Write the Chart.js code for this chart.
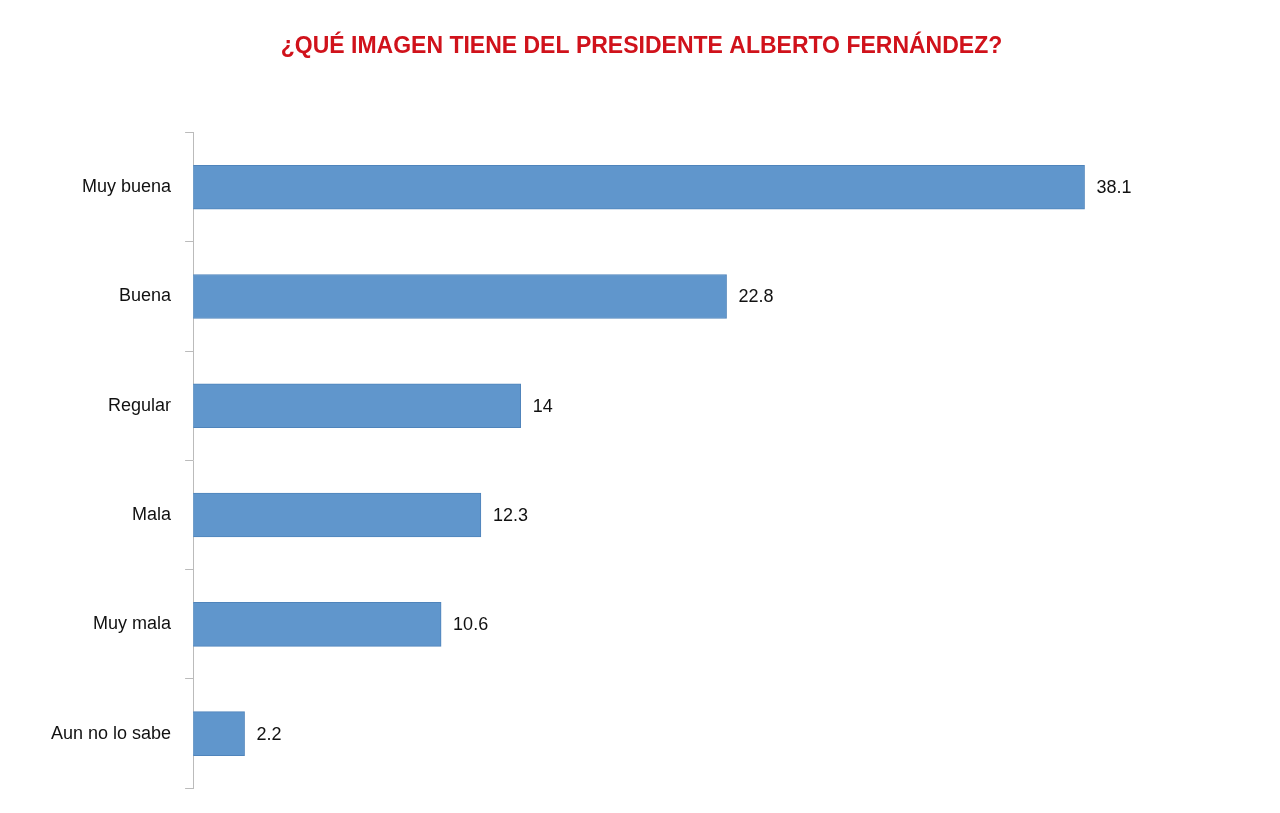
<!DOCTYPE html>
<html><head><meta charset="utf-8">
<script src="https://cdn.jsdelivr.net/npm/chart.js@4"></script>
<style>html,body{margin:0;background:#fff}#w{width:1280px;height:813px}</style>
</head><body><div id="w"><canvas id="c"></canvas></div>
<script>
const categories = ["Muy buena","Buena","Regular","Mala","Muy mala","Aun no lo sabe"];
const values = [38.1,22.8,14,12.3,10.6,2.2];
const valueLabels = ["38.1","22.8","14","12.3","10.6","2.2"];
const chartTitle = "¿QUÉ IMAGEN TIENE DEL PRESIDENTE ALBERTO FERNÁNDEZ?";

const labelPlugin = {
  id:'vl',
  afterDatasetsDraw(chart){
    const ctx=chart.ctx; const meta=chart.getDatasetMeta(0);
    ctx.save(); ctx.fillStyle='#111'; ctx.font='18px "Liberation Sans", Arial'; ctx.textBaseline='middle';
    meta.data.forEach((b,i)=>{ ctx.fillText(valueLabels[i], b.x+12, b.y+1); });
    ctx.restore();
  }
};
new Chart(document.getElementById('c'),{
  type:'bar',
  data:{labels:categories,datasets:[{data:values,backgroundColor:'#6096cc',borderColor:'#4f84bb',borderWidth:1,barThickness:44}]},
  options:{
    indexAxis:'y',responsive:true,maintainAspectRatio:false,animation:false,
    layout:{padding:{left:37,right:34,bottom:20,top:0}},
    plugins:{legend:{display:false},tooltip:{enabled:false},
      title:{display:true,text:chartTitle,color:'#d0121b',font:{family:'"Liberation Sans", Arial',size:23,weight:'bold'},padding:{top:33,bottom:72}}},
    scales:{
      x:{min:0,max:45,display:false},
      y:{grid:{drawOnChartArea:false,tickLength:8,color:'#bbb',offset:true},border:{color:'#bbb'},
        ticks:{color:'#111',font:{family:'"Liberation Sans", Arial',size:18},padding:14}}
    }
  },
  plugins:[labelPlugin]
});
</script></body></html>
